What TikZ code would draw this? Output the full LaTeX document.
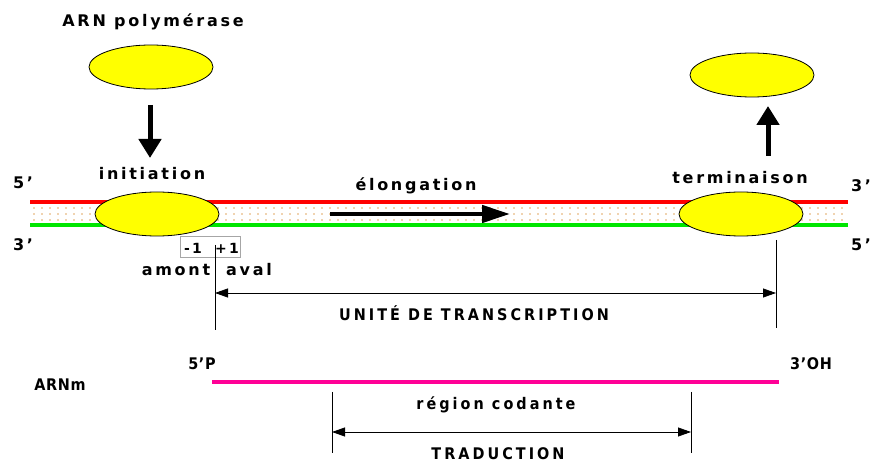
\documentclass[tikz,border=0pt]{standalone}
\usepackage{fontspec}
\usetikzlibrary{shapes.geometric,arrows.meta}
\newfontfamily\lblfont[LetterSpace=17]{DejaVu Sans}
\newfontfamily\capfont[LetterSpace=19]{DejaVu Sans Condensed}
\newfontfamily\capplain[LetterSpace=4]{DejaVu Sans Condensed}
\definecolor{strandred}{RGB}{255,0,0}
\definecolor{strandgreen}{RGB}{0,230,0}
\definecolor{mrna}{RGB}{255,0,150}
\definecolor{dotc}{RGB}{225,165,95}
\definecolor{polyellow}{RGB}{255,255,0}
\tikzset{
  lbl/.style={font=\lblfont\bfseries\fontsize{16}{18}\selectfont, inner sep=0pt},
  numlbl/.style={font=\lblfont\bfseries\fontsize{14}{16}\selectfont, inner sep=0pt},
  caplbl/.style={font=\capfont\bfseries\fontsize{16}{18}\selectfont, inner sep=0pt},
  endlbl/.style={font=\capplain\bfseries\fontsize{16}{18}\selectfont, inner sep=0pt},
  pol/.style={ellipse, draw=black, line width=0.8pt, fill=polyellow, minimum width=124pt, minimum height=44pt, inner sep=0pt},
  bigarrow/.style={line width=5pt, -{Triangle[length=19pt,width=22pt]}},
  dimline/.style={line width=0.7pt},
  dimarrow/.style={line width=0.8pt, {Triangle[length=13pt,width=9pt]}-{Triangle[length=13pt,width=9pt]}},
  strand/.style={line width=4pt},
}
\begin{document}
\begin{tikzpicture}[x=1pt,y=-1pt]
\useasboundingbox (0,0) rectangle (871,462);

% free polymerase above the template
\node[lbl] (rnap) at (153,22) {ARN polymérase};
\node[pol] (p0) at (151,67) {};
\coordinate (d0) at (150,105);
\coordinate (d1) at (150,158);
\draw[bigarrow] (d0) -- (d1);

% dotted space between the two DNA strands
\foreach \x in {34,42,...,846}
  \foreach \y in {208,214,220}
    \fill[dotc] (\x,\y) circle (0.8);

% DNA strands
\coordinate (rL) at (30,202);
\coordinate (rR) at (848,202);
\coordinate (gL) at (30,225);
\coordinate (gR) at (848,225);
\draw[strand, strandred] (rL) -- (rR);
\draw[strand, strandgreen] (gL) -- (gR);

\node[lbl] at (23,183) {5’};
\node[lbl] at (23,245) {3’};
\node[lbl] at (861,186) {3’};
\node[lbl] at (861,245) {5’};

% polymerase at the promoter and at the terminator
\node[pol] (pini) at (157,214) {};
\node[pol] (pter) at (741,214) {};
\node[lbl] (ini) at (152,174) {initiation};
\node[lbl] (ter) at (740,178) {terminaison};
\node[lbl] (elo) at (416,186) {élongation};

% elongation direction
\coordinate (e0) at (330,214);
\coordinate (e1) at (510,214);
\draw[line width=4.5pt, -{Triangle[length=28pt,width=17pt]}] (e0) -- (e1);

% released polymerase
\node[pol] (p1) at (752,75) {};
\coordinate (u0) at (768,156);
\coordinate (u1) at (768,106);
\draw[bigarrow] (u0) -- (u1);

% start site
\node[draw=black!35, line width=0.7pt, minimum width=60pt, minimum height=21pt, inner sep=0pt] (box) at (210,247) {};
\node[numlbl] at (193,248) {-\,1};
\node[numlbl] at (227,248) {+1};
\node[lbl] at (176,270) {amont};
\node[lbl] at (249,270) {aval};

% transcription unit
\coordinate (tu0) at (215,245);
\coordinate (tu1) at (215,330);
\coordinate (tv0) at (776,240);
\coordinate (tv1) at (776,328);
\draw[dimline] (tu0) -- (tu1);
\draw[dimline] (tv0) -- (tv1);
\coordinate (ta) at (215,293);
\coordinate (tb) at (776,293);
\draw[dimarrow] (ta) -- (tb);
\node[caplbl] at (474,313) {UNITÉ DE TRANSCRIPTION};

% messenger RNA
\node[endlbl] at (202,364) {5’P};
\node[endlbl] at (811,364) {3’OH};
\node[endlbl] at (60,385) {ARNm};
\coordinate (m0) at (212,382);
\coordinate (m1) at (779,382);
\draw[strand, mrna] (m0) -- (m1);

% coding region
\coordinate (c0) at (332,392);
\coordinate (c1) at (332,453);
\coordinate (c2) at (691,392);
\coordinate (c3) at (691,453);
\draw[dimline] (c0) -- (c1);
\draw[dimline] (c2) -- (c3);
\coordinate (ca) at (332,432);
\coordinate (cb) at (691,432);
\draw[dimarrow] (ca) -- (cb);
\node[caplbl] at (496,405) {région codante};
\node[caplbl] at (498,454) {TRADUCTION};
\end{tikzpicture}
\end{document}
